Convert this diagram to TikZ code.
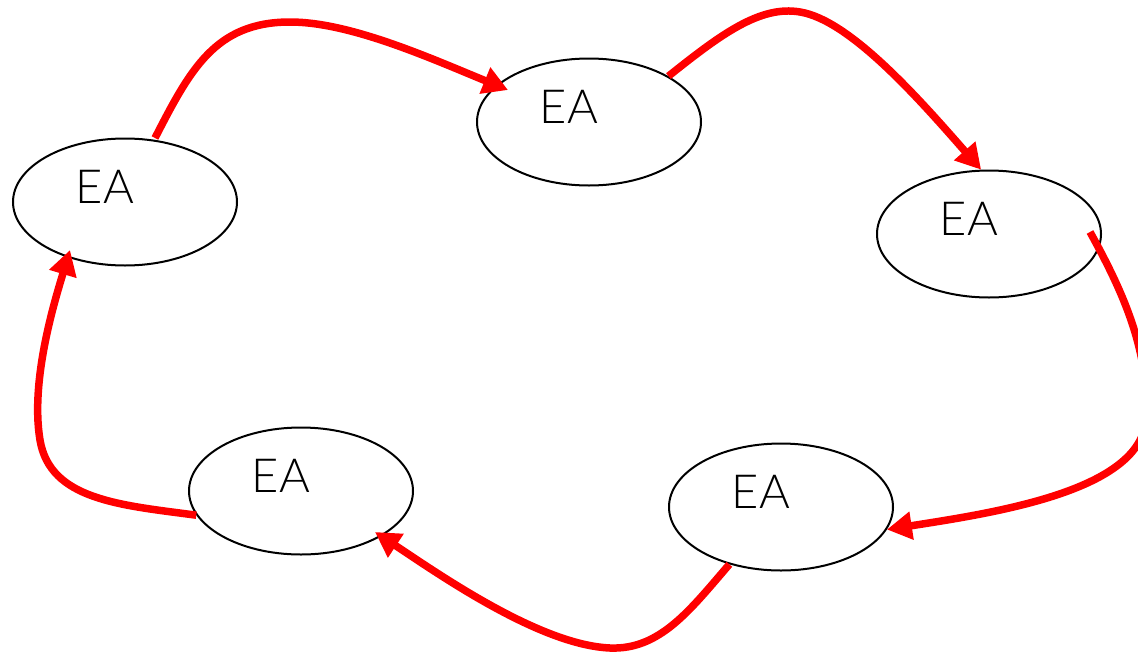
\documentclass[tikz,border=0pt]{standalone}
\usepackage{fontspec}
\newfontfamily\eafont{Lato Light}
\usetikzlibrary{shapes.geometric,arrows.meta,calc}
\tikzset{
  ea/.style={draw=black, line width=2pt, ellipse, minimum width=224pt, minimum height=127pt, inner sep=0pt},
  eatext/.style={font=\eafont\fontsize{47}{47}\selectfont, inner sep=0pt},
  flow/.style={draw=red, line width=7.5pt, -{Triangle[length=25pt,width=27pt]}}
}
\begin{document}
\begin{tikzpicture}[x=1pt,y=-1pt]
  \useasboundingbox (0,0) rectangle (1138,651);
  \clip (0,0) rectangle (1138,651);
  % the five ellipses
  \node[ea] (L)  at (125,202) {};
  \node[ea] (T)  at (589,122) {};
  \node[ea] (R)  at (989,234) {};
  \node[ea] (BR) at (781,507) {};
  \node[ea] (BL) at (301,491) {};
  % labels, set slightly up and left of each centre
  \node[eatext] (tL)  at ($(L)+(-20,-15)$)  {EA};
  \node[eatext] (tT)  at ($(T)+(-20,-15)$)  {EA};
  \node[eatext] (tR)  at ($(R)+(-20,-15)$)  {EA};
  \node[eatext] (tBR) at ($(BR)+(-20,-15)$) {EA};
  \node[eatext] (tBL) at ($(BL)+(-20,-15)$) {EA};
  % the cycle of red arrows
  \draw[flow] ($(L)+(30,-64)$) .. controls (190,70) and (215,22) .. (290,22)
                     .. controls (350,22) and (430,58) .. ($(T)+(-81,-32)$);
  \draw[flow] (T.30) .. controls (720,35) and (760,5) .. (800,12)
                     .. controls (850,20) and (920,100) .. (R.97);
  \draw[flow] ($(R)+(101,-2)$) .. controls (1122,290) and (1150,350) .. (1146,420)
                    .. controls (1140,490) and (1000,512) .. (BR.-12);
  \draw[flow] (BR.-132) .. controls (690,610) and (660,650) .. (610,648)
                        .. controls (540,645) and (440,575) .. ($(BL)+(74,41)$);
  \draw[flow] (BL.-167) .. controls (120,505) and (50,500) .. (40,440)
                        .. controls (30,380) and (55,300) .. ($(L)+(-55,48)$);
\end{tikzpicture}
\end{document}
